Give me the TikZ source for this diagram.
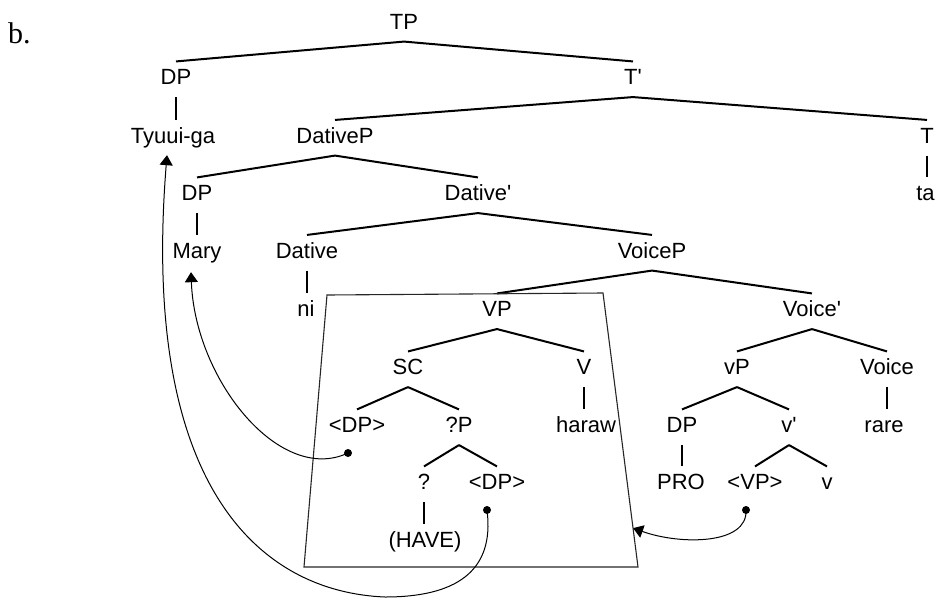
\documentclass[tikz,border=0pt]{standalone}
\usepackage{fontspec}
\setmainfont{Liberation Sans}[Ligatures=TeXOff]
\newfontfamily\exserif{Liberation Serif}
\usetikzlibrary{arrows.meta,calc}
\begin{document}
\begin{tikzpicture}[x=1pt,y=-1pt,
  cat/.style={inner sep=0pt, font=\fontsize{22}{22}\selectfont, text height=15.75pt, text depth=0pt},
  br/.style={line width=2pt},
  mv/.style={line width=1pt},
  mvtip/.style={-{Triangle[length=10pt,width=13pt]}},
  dotmark/.style={circle, fill, inner sep=0pt, minimum size=8pt},
  frame/.style={line width=1.1pt, draw=black!85}]
\useasboundingbox (0,0) rectangle (935,598);

% example label
\node[anchor=base west, inner sep=0pt, font=\exserif\fontsize{30}{30}\selectfont] (ex) at (8,43) {b.};

% tree categories and words
\node[cat] (TP) at (404,21.5) {TP};
\node[cat] (DPa) at (176,77) {DP};
\node[cat] (Tbar) at (633,77) {T'};
\node[cat] (Tyuui) at (173,135.5) {Tyuui-ga};
\node[cat] (DativeP) at (335,135.5) {DativeP};
\node[cat] (T) at (927,135.5) {T};
\node[cat] (DPb) at (197,193) {DP};
\node[cat] (Datbar) at (478,193) {Dative'};
\node[cat] (ta) at (925.5,193) {ta};
\node[cat] (Mary) at (197,250.5) {Mary};
\node[cat] (Dative) at (307,250.5) {Dative};
\node[cat] (VoiceP) at (652,250.5) {VoiceP};
\node[cat] (ni) at (306,309) {ni};
\node[cat] (VP) at (497,309) {VP};
\node[cat] (Voicebar) at (812,309) {Voice'};
\node[cat] (SC) at (408,367) {SC};
\node[cat] (V) at (584,367) {V};
\node[cat] (vP) at (737,367) {vP};
\node[cat] (Voice) at (887,367) {Voice};
\node[cat] (tDPa) at (357,425) {<DP>};
\node[cat] (QP) at (459,425) {?P};
\node[cat] (haraw) at (586,425) {haraw};
\node[cat] (DPc) at (682,425) {DP};
\node[cat] (vbar) at (789,425) {v'};
\node[cat] (rare) at (884,425) {rare};
\node[cat] (Q) at (424,482) {?};
\node[cat] (tDPb) at (497,482) {<DP>};
\node[cat] (PRO) at (681,482) {PRO};
\node[cat] (tVP) at (755,482) {<VP>};
\node[cat] (vlow) at (827,482) {v};
\node[cat] (HAVE) at (425,540) {(HAVE)};

% binary branches
\foreach \p/\c in {TP/DPa, TP/Tbar, Tbar/DativeP, Tbar/T, DativeP/DPb, DativeP/Datbar,
    Datbar/Dative, Datbar/VoiceP, VoiceP/VP, VoiceP/Voicebar, VP/SC, VP/V,
    SC/tDPa, SC/QP, QP/Q, QP/tDPb, Voicebar/vP, Voicebar/Voice, vP/DPc, vP/vbar,
    vbar/tVP, vbar/vlow}
  \draw[br] ([yshift=-12pt]\p.south) -- ([yshift=7.5pt]\c.north);

% unary branches
\foreach \p/\c in {DPa/Tyuui, T/ta, DPb/Mary, Dative/ni, V/haraw,
    Voice/rare, DPc/PRO, Q/HAVE}
  \draw[br] ([yshift=-12pt]\p.south) -- ([yshift=7.5pt]\p.south |- \c.north);

% VP frame
\coordinate (bTL) at (327,295);
\coordinate (bTR) at (603,293);
\coordinate (bBR) at (638,567);
\coordinate (bBL) at (304,567);
\draw[frame] (bTL) -- (bTR) -- (bBR) -- (bBL) -- cycle;
\coordinate (boxtip) at ($(bTR)!0.858!(bBR)$);

% trace origins
\node[dotmark] (d1) at (348,453) {};
\node[dotmark] (d2) at (487,510) {};
\node[dotmark] (d3) at (746,510) {};

% movement arrows
\draw[mv,mvtip] (d1.center) .. controls (280,485) and (195,380) ..
  ([xshift=-6pt,yshift=-13.6pt]Mary.south);
\coordinate (low) at (385,597);
\draw[mv,mvtip] (d2.center) .. controls (495,572) and (455,597) .. (low)
  .. controls (262,592) and (140,490) .. ([xshift=-6pt,yshift=-11.6pt]Tyuui.south);
\draw[mv,mvtip] (d3.center) .. controls (748,545) and (680,545) .. (boxtip);
\end{tikzpicture}
\end{document}
